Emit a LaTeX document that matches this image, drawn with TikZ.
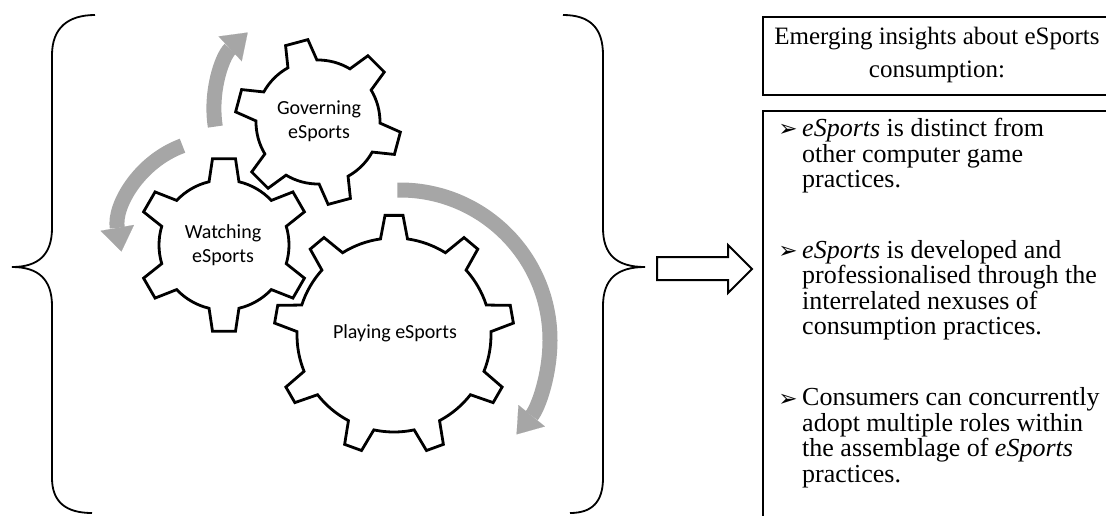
\documentclass[tikz,border=0pt]{standalone}
\usepackage{fontspec}
\setmainfont{Liberation Serif}
\newfontfamily\gearfont{Carlito}
\newfontfamily\symbolfont{DejaVu Sans}
\usetikzlibrary{arrows.meta}
\definecolor{arcgray}{RGB}{166,166,166}

\tikzset{
  gearline/.style={draw=black, line width=2.8pt, line join=miter, fill=white},
  gearlabel/.style={font=\gearfont\fontsize{20}{24}\selectfont, align=center, inner sep=0pt},
  cyclearrow/.style={draw=arcgray, line width=15pt,
    -{Triangle[length=24pt, width=34pt, line width=0.1pt]}},
  bracket/.style={line width=1.8pt},
  boxline/.style={line width=2pt},
  blockarrow/.style={line width=2pt, fill=white, line join=miter},
  bullettext/.style={font=\fontsize{26}{25.5}\selectfont, align=left, inner sep=0pt, anchor=north west},
  bulletmark/.style={font=\symbolfont\fontsize{23}{23}\selectfont, inner sep=0pt},
  titletext/.style={font=\fontsize{25}{33}\selectfont, align=center, inner sep=0pt},
}

% gear outline: centre x, centre y, teeth, first tooth angle,
% tip radius, root radius, tip half-angle, root half-angle
\newcommand\geardraw[8]{%
  \begin{scope}[shift={(#1,#2)}]
    \pgfmathsetmacro\gstep{360/#3}
    \draw[gearline] ({#4-#8}:#6)
      \foreach \k in {1,...,#3}{
        -- ({#4+(\k-1)*\gstep-#7}:#5)
        -- ({#4+(\k-1)*\gstep+#7}:#5)
        -- ({#4+(\k-1)*\gstep+#8}:#6)
        arc[start angle={#4+(\k-1)*\gstep+#8}, end angle={#4+\k*\gstep-#8}, radius=#6]
      } -- cycle;
  \end{scope}}

\begin{document}
\begin{tikzpicture}[x=1pt, y=-1pt]
  \useasboundingbox (0,0) rectangle (1106,515);
  \clip (0,0) rectangle (1106,515);

  % curly brackets round the gear group
  \draw[bracket] (95,15) .. controls (68,15) and (52,28) .. (52,55) -- (52,228)
    .. controls (52,255) and (38,267) .. (12,267)
    .. controls (38,267) and (52,279) .. (52,306) -- (52,478)
    .. controls (52,502) and (66,513) .. (92,513);
  \draw[bracket] (563,15) .. controls (590,15) and (603,28) .. (603,55) -- (603,228)
    .. controls (603,255) and (617,267) .. (645,267)
    .. controls (617,267) and (603,279) .. (603,306) -- (603,478)
    .. controls (603,502) and (592,513) .. (570,513);

  % gray rotation arrows
  \coordinate (c1) at (320,110);
  \coordinate (c2) at (215,235);
  \coordinate (c3) at (400,340);
  \draw[cyclearrow] ([shift={(171:106)}]c1) arc[start angle=171, end angle=227, radius=106];
  \draw[cyclearrow] ([shift={(250:95)}]c2) arc[start angle=250, end angle=170, radius=95];
  \draw[cyclearrow] ([shift={(269:150)}]c3) arc[start angle=269, end angle=399, radius=150];

  % the three gears
  \geardraw{318}{122}{6}{15}{83}{62}{8}{14}
  \geardraw{224}{245}{6}{30}{87}{65}{7.6}{13.3}
  \geardraw{394}{335}{9}{30}{120}{97}{4.3}{8}

  \node[gearlabel] (govern) at (319,121) {Governing\\eSports};
  \node[gearlabel] (watch) at (223,245) {Watching\\eSports};
  \node[gearlabel] (play) at (395,333) {Playing eSports};

  % block arrow towards the insights
  \draw[blockarrow] (657,257) -- (728,257) -- (728,245) -- (752,269)
    -- (728,293) -- (728,280) -- (657,280) -- cycle;

  % insight boxes
  \draw[boxline] (763,17) rectangle (1112,95);
  \draw[boxline] (763,111) rectangle (1112,540);

  \node[titletext] (title) at (937,55) {Emerging insights about eSports\\consumption:};

  \node[bulletmark] (m1) at (788,130.5) {➢};
  \node[bullettext] (b1) at (802,118) {\textit{eSports} is distinct from\\other computer game\\practices.};
  \node[bulletmark] (m2) at (788,252.5) {➢};
  \node[bullettext] (b2) at (802,240) {\textit{eSports} is developed and\\professionalised through the\\interrelated nexuses of\\consumption practices.};
  \node[bulletmark] (m3) at (788,400) {➢};
  \node[bullettext] (b3) at (802,387.5) {Consumers can concurrently\\adopt multiple roles within\\the assemblage of \textit{eSports}\\practices.};
\end{tikzpicture}
\end{document}
